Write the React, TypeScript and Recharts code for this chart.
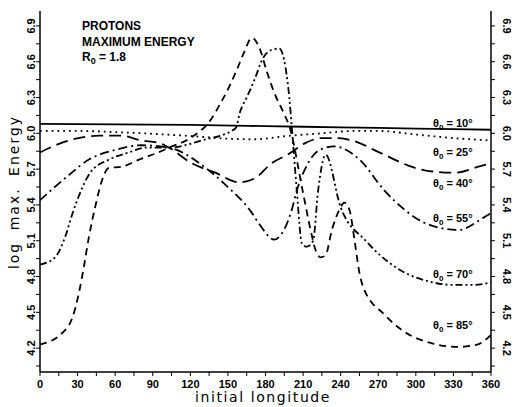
import { LineChart, Line, XAxis, YAxis } from 'recharts'

// longitude grid and value labels
const xTicks = [0, 15, 30, 45, 60, 75, 90, 105, 120, 135, 150, 165, 180, 195, 210, 225, 240, 255, 270, 285, 300, 315, 330, 345, 360]
const xLabels = [0, 30, 60, 90, 120, 150, 180, 210, 240, 270, 300, 330, 360]
const yTicks = [4.05, 4.2, 4.35, 4.5, 4.65, 4.8, 4.95, 5.1, 5.25, 5.4, 5.55, 5.7, 5.85, 6.0, 6.15, 6.3, 6.45, 6.6, 6.75, 6.9]
const yLabels = [4.2, 4.5, 4.8, 5.1, 5.4, 5.7, 6.0, 6.3, 6.6, 6.9]

// theta0 = 10 deg (solid)
const lon10 = [0, 60, 120, 180, 240, 300, 360]
const val10 = [6.08, 6.075, 6.07, 6.06, 6.05, 6.04, 6.03]

// theta0 = 25 deg (dotted)
const lon25 = [0, 30, 60, 100, 130, 150, 170, 200, 225, 250, 270, 300, 330, 360]
const val25 = [6.02, 6.02, 6.01, 5.99, 5.97, 5.955, 5.95, 5.98, 6.0, 6.02, 6.02, 5.99, 5.96, 5.94]

// theta0 = 40 deg (long dash)
const lon40 = [0, 20, 47, 65, 81, 95, 103, 121, 140, 159, 171, 185, 199, 212, 225, 239, 249, 273, 294, 307, 331, 350, 360]
const val40 = [5.84, 5.93, 5.98, 5.98, 5.94, 5.92, 5.88, 5.75, 5.67, 5.59, 5.62, 5.75, 5.83, 5.92, 5.96, 5.96, 5.94, 5.83, 5.73, 5.69, 5.67, 5.72, 5.75]

// theta0 = 55 deg (dash dot)
const lon55 = [0, 23, 39, 60, 81, 103, 131, 150, 168, 175, 187, 193, 201, 205, 213, 223, 235, 255, 275, 291, 307, 334, 355, 360]
const val55 = [5.44, 5.65, 5.78, 5.86, 5.9, 5.88, 5.72, 5.55, 5.35, 5.24, 5.11, 5.16, 5.36, 5.52, 5.73, 5.86, 5.89, 5.78, 5.52, 5.36, 5.25, 5.19, 5.3, 5.33]

// theta0 = 70 deg (dash dot dot)
const lon70 = [0, 12, 20, 26, 34, 40, 55, 71, 84, 103, 129, 156, 160, 165, 172, 177, 185, 191, 196, 199, 201, 205, 209, 213, 218, 222, 228, 240, 260, 285, 310, 330, 345, 360]
const val70 = [4.9, 4.96, 5.13, 5.33, 5.55, 5.67, 5.78, 5.84, 5.88, 5.88, 5.94, 6.04, 6.19, 6.3, 6.47, 6.61, 6.7, 6.71, 6.55, 6.3, 6.05, 5.52, 5.08, 5.05, 5.1, 5.52, 5.82, 5.38, 5.1, 4.87, 4.76, 4.73, 4.73, 4.75]

// theta0 = 85 deg (dashed)
const lon85 = [0, 18, 26, 31, 35, 39, 44, 49, 55, 65, 79, 92, 103, 120, 136, 144, 151, 157, 163, 169, 175, 181, 187, 195, 199, 210, 216, 220, 224, 228, 233, 239, 243, 247, 251, 255, 258, 275, 289, 313, 333, 349, 360]
const val85 = [4.23, 4.33, 4.46, 4.66, 4.88, 5.13, 5.38, 5.59, 5.71, 5.72, 5.78, 5.83, 5.88, 5.96, 6.11, 6.25, 6.39, 6.53, 6.68, 6.8, 6.72, 6.52, 6.34, 6.16, 6.06, 5.5, 5.19, 5.02, 4.96, 4.98, 5.19, 5.36, 5.42, 5.36, 5.11, 4.83, 4.71, 4.48, 4.35, 4.24, 4.21, 4.23, 4.31]

const zip = (lon: number[], val: number[]) => lon.map((l, i) => ({ lon: l, v: val[i] }))

const series = [
  { name: '10', data: zip(lon10, val10), dash: undefined },
  { name: '25', data: zip(lon25, val25), dash: '1.8 4' },
  { name: '40', data: zip(lon40, val40), dash: '12 6' },
  { name: '55', data: zip(lon55, val55), dash: '9 4 2 4' },
  { name: '70', data: zip(lon70, val70), dash: '7 3 2 3 2 3' },
  { name: '85', data: zip(lon85, val85), dash: '7 5' },
]

const curveLabels = [
  { deg: '10°', y: 123 },
  { deg: '25°', y: 152 },
  { deg: '40°', y: 183 },
  { deg: '55°', y: 218 },
  { deg: '70°', y: 274 },
  { deg: '85°', y: 325 },
]

const font = 'Liberation Sans, Arial, sans-serif'
const isMajor = (v: number) => yLabels.some((l) => Math.abs(l - v) < 1e-6)

const LeftTick = ({ x, y, payload }: any) => {
  if (!isMajor(payload.value)) return null
  const cx = x - 3
  return (
    <text x={cx} y={y} transform={`rotate(-90 ${cx} ${y})`} textAnchor="middle" dominantBaseline="central"
      fontSize={11} fontWeight="bold" fontFamily={font} fill="#000">
      {payload.value.toFixed(1)}
    </text>
  )
}

const RightTick = ({ x, y, payload }: any) => {
  if (!isMajor(payload.value)) return null
  const cx = x + 10
  return (
    <text x={cx} y={y} transform={`rotate(90 ${cx} ${y})`} textAnchor="middle" dominantBaseline="central"
      fontSize={11} fontWeight="bold" fontFamily={font} fill="#000">
      {payload.value.toFixed(1)}
    </text>
  )
}

const BottomTick = ({ x, y, payload }: any) => {
  if (!xLabels.includes(payload.value)) return null
  return (
    <text x={x} y={y + 6} textAnchor="middle" dominantBaseline="central"
      fontSize={11} fontWeight="bold" fontFamily={font} fill="#000">
      {payload.value}
    </text>
  )
}

export default function App() {
  return (
    <div style={{ position: 'absolute', left: 0, top: 0, width: 514, height: 407, background: '#fff' }}>
      <LineChart width={514} height={407} margin={{ top: 11, right: 0, bottom: 0, left: 0 }}>
        <XAxis xAxisId="bottom" type="number" dataKey="lon" domain={[0, 360]} ticks={xTicks}
          interval={0} tick={<BottomTick />} tickSize={4} tickMargin={2} height={35}
          axisLine={{ stroke: '#000', strokeWidth: 1.5 }} tickLine={{ stroke: '#000' }} allowDataOverflow />
        <XAxis xAxisId="top" orientation="top" type="number" dataKey="lon" domain={[0, 360]}
          tick={false} tickLine={false} height={0} axisLine={{ stroke: '#000', strokeWidth: 1.5 }} />
        <YAxis yAxisId="left" type="number" domain={[4.0, 7.025]} ticks={yTicks} interval={0}
          tick={<LeftTick />} tickSize={4} tickMargin={2} width={40}
          axisLine={{ stroke: '#000', strokeWidth: 1.5 }} tickLine={{ stroke: '#000' }} allowDataOverflow />
        <YAxis yAxisId="right" orientation="right" type="number" domain={[4.0, 7.025]} ticks={yTicks} interval={0}
          tick={<RightTick />} tickSize={4} tickMargin={2} width={23}
          axisLine={{ stroke: '#000', strokeWidth: 1.5 }} tickLine={{ stroke: '#000' }} allowDataOverflow />
        {series.map((s) => (
          <Line key={s.name} xAxisId="bottom" yAxisId="left" data={s.data} dataKey="v" type="monotone"
            stroke="#000" strokeWidth={1.8} strokeDasharray={s.dash} dot={false} activeDot={false}
            isAnimationActive={false} />
        ))}
      </LineChart>
      <svg width={514} height={407} style={{ position: 'absolute', left: 0, top: 0, pointerEvents: 'none' }}>
        <g fontFamily={font} fontWeight="bold" fontSize={12} fill="#000">
          <text x={82} y={30}>PROTONS</text>
          <text x={82} y={46}>MAXIMUM  ENERGY</text>
          <text x={82} y={61}>R<tspan fontSize={9} dy={3}>0</tspan><tspan dy={-3}> = 1.8</tspan></text>
        </g>
        <g fontFamily={font} fontWeight="bold" fontSize={11} fill="#000">
          {curveLabels.map((c) => (
            <text key={c.deg} x={433} y={c.y + 4}>
              θ<tspan fontSize={8} dy={3}>0</tspan><tspan dy={-3}> = {c.deg}</tspan>
            </text>
          ))}
        </g>
        <text x={263} y={402} textAnchor="middle" fontFamily="DejaVu Sans, sans-serif" fontSize={14}
          letterSpacing={1.6} fill="#000">initial longitude</text>
        <text x={14} y={192} transform="rotate(-90 14 192)" textAnchor="middle" dominantBaseline="central"
          fontFamily="DejaVu Sans, sans-serif" fontSize={14} letterSpacing={2} wordSpacing={5} fill="#000">
          log max. Energy
        </text>
      </svg>
    </div>
  )
}
